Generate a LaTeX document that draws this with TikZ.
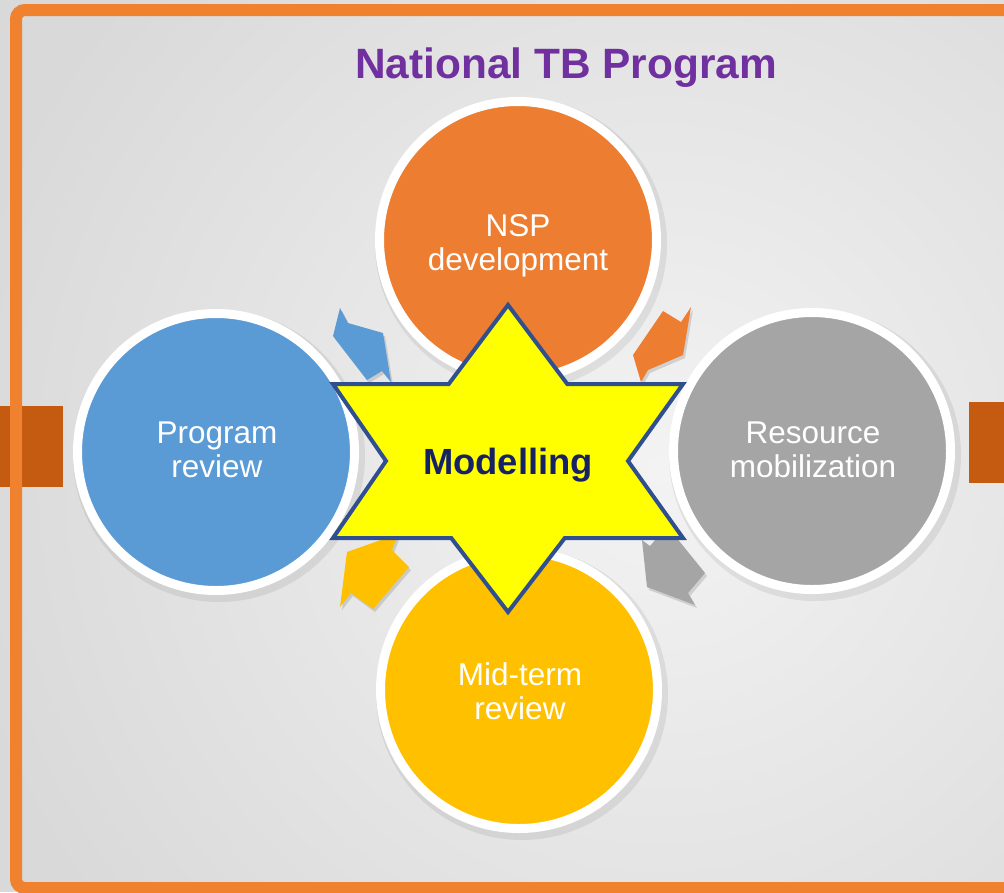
\documentclass[tikz,border=0pt]{standalone}
\usepackage{fontspec}
\setmainfont{Liberation Sans}
\definecolor{frameorange}{HTML}{F0812F}
\definecolor{darkorange}{HTML}{C55A11}
\definecolor{nspc}{HTML}{ED7D31}
\definecolor{progc}{HTML}{5B9BD5}
\definecolor{resc}{HTML}{A5A5A5}
\definecolor{midc}{HTML}{FFC000}
\definecolor{starfill}{HTML}{FFFF00}
\definecolor{starline}{HTML}{2F4F8F}
\definecolor{modtext}{HTML}{172264}
\definecolor{titlec}{HTML}{7030A0}
\definecolor{bgout}{HTML}{D9D9D9}
\definecolor{bgin}{HTML}{F3F3F3}
\tikzset{
  bubble/.style={circle, draw=white, line width=9pt, minimum size=277pt, inner sep=0pt},
  bubbletext/.style={text=white, align=center, font=\fontsize{31.5}{34}\selectfont},
  bubbleshadow/.style={fill=black, opacity=0.07},
  arrowshadow/.style={fill=black, opacity=0.13},
}
\begin{document}
\begin{tikzpicture}[x=1pt,y=-1pt]
\useasboundingbox (0,0) rectangle (1004,892);
\clip (0,0) rectangle (1004,892);
% background
\fill[bgout] (0,0) rectangle (1004,892);
\shade[inner color=bgin, outer color=bgout] (660,470) circle (720pt);
% side tabs
\fill[darkorange] (0,406) rectangle (63,487);
\fill[darkorange] (969,402) rectangle (1004,483);
% frame
\draw[frameorange, line width=12pt, rounded corners=9pt] (16,10) rectangle (1014,888);
% title
\node[font=\bfseries\fontsize{42.4}{46}\selectfont, text=titlec] (title) at (566,68) {National TB Program};
% circle shadows
\fill[bubbleshadow] (521,244) circle (146pt);
\fill[bubbleshadow] (219,456) circle (146pt);
\fill[bubbleshadow] (815,455) circle (146pt);
\fill[bubbleshadow] (522,694) circle (146pt);
% circles
\node[bubble, fill=nspc] (nsp) at (518,240) {};
\node[bubble, fill=progc] (prog) at (216,452) {};
\node[bubble, fill=resc] (res) at (812,451) {};
\node[bubble, fill=midc] (mid) at (519,690) {};
\node[bubbletext] (nsptext) at (518,246) {NSP\\development};
\node[bubbletext] (progtext) at (217,449.5) {Program\\review};
\node[bubbletext] (restext) at (813,449.5) {Resource\\mobilization};
\node[bubbletext] (midtext) at (520,691) {Mid-term\\review};
% arrow shadows
\begin{scope}[shift={(2,3)}]
\fill[arrowshadow] (340,308) -- (348,323) -- (383,333) -- (391,382) -- (382,371) -- (367,380) -- (333,336) -- cycle;
\fill[arrowshadow] (663,311) -- (681,322) -- (691,307) -- (683,355) -- (648,370) -- (641,382) -- (633,355) -- cycle;
\fill[arrowshadow] (347,552) -- (398,534) -- (392,550) -- (409,567) -- (373,609) -- (351,593) -- (340,607) -- cycle;
\fill[arrowshadow] (642,540) -- (650,546) -- (667,526) -- (705,573) -- (688,593) -- (695,605) -- (647,587) -- cycle;
\end{scope}
% arrows
\fill[progc] (340,308) -- (348,323) -- (383,333) -- (391,382) -- (382,371) -- (367,380) -- (333,336) -- cycle;
\fill[nspc] (663,311) -- (681,322) -- (691,307) -- (683,355) -- (648,370) -- (641,382) -- (633,355) -- cycle;
\fill[midc] (347,552) -- (398,534) -- (392,550) -- (409,567) -- (373,609) -- (351,593) -- (340,607) -- cycle;
\fill[resc] (642,540) -- (650,546) -- (667,526) -- (705,573) -- (688,593) -- (695,605) -- (647,587) -- cycle;
% star
\draw[starline, line width=4pt, fill=starfill, line join=miter]
  (508,305) -- (567.3,384) -- (683,384) -- (628,461) -- (683,538) -- (564.8,538)
  -- (508,612) -- (451.2,538) -- (333,538) -- (386,461) -- (333,384) -- (448.7,384) -- cycle;
\node[font=\bfseries\fontsize{36.4}{40}\selectfont, text=modtext] (model) at (508,465) {Modelling};
\end{tikzpicture}
\end{document}
